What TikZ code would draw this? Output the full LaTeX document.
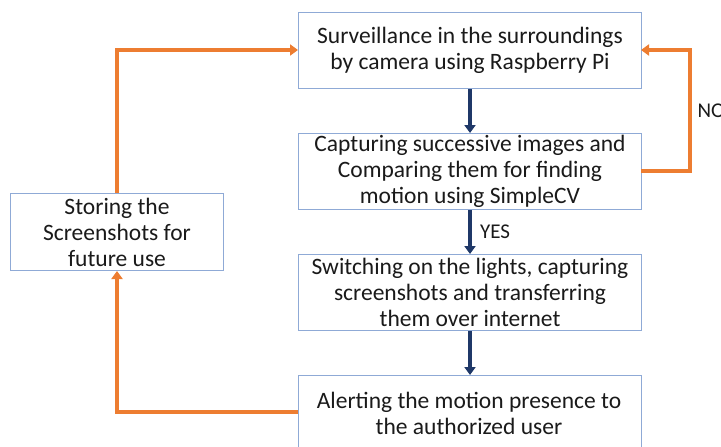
\documentclass[tikz,border=0pt]{standalone}
\usepackage{fontspec}
\setmainfont{Carlito}
\usetikzlibrary{arrows.meta}
\definecolor{boxline}{HTML}{8FAAD6}
\definecolor{navy}{HTML}{1F3868}
\definecolor{flow}{HTML}{ED7D31}
\definecolor{ink}{HTML}{1A1A1A}
\tikzset{
  boxfont/.style={font=\fontsize{23.5}{26}\selectfont, text=ink},
  stepbox/.style={draw=boxline, line width=1pt, fill=white, inner sep=0pt,
    align=center, boxfont, anchor=north west},
  down/.style={draw=navy, line width=3.4pt, -{Triangle[length=8pt,width=11pt]}},
  back/.style={draw=flow, line width=3.4pt, -{Triangle[length=8pt,width=11pt]}},
  tag/.style={font=\fontsize{21}{24}\selectfont, text=ink},
}
\begin{document}
\begin{tikzpicture}[x=1pt,y=-1pt]
\useasboundingbox (0,0) rectangle (721,447);
\clip (0,0) rectangle (721,447);
\node[stepbox, minimum width=343pt, minimum height=76pt] (surv) at (298,12)
  {Surveillance in the surroundings\\by camera using Raspberry Pi};
\node[stepbox, minimum width=343pt, minimum height=76pt] (cmp) at (298,133)
  {Capturing successive images and\\Comparing them for finding\\motion using SimpleCV};
\node[stepbox, minimum width=343pt, minimum height=76pt] (sw) at (298,254)
  {Switching on the lights, capturing\\screenshots and transferring\\them over internet};
\node[stepbox, minimum width=343pt, minimum height=100pt] (alert) at (298,375)
  {};
\node[boxfont, align=center] (alerttxt) at (469,413)
  {Alerting the motion presence to\\the authorized user};
\node[stepbox, minimum width=213pt, minimum height=77pt] (store) at (10,193)
  {Storing the\\Screenshots for\\future use};

\draw[down] (surv.south) -- (cmp.north);
\draw[down] (cmp.south) -- node[right, xshift=5pt, tag] (yes) {YES} (sw.north);
\draw[down] (sw.south) -- (alert.north);

\coordinate (noR) at (690,171);
\draw[back] (641,171) -- (noR) |- (641,50);
\node[anchor=west, tag] (no) at (694,111) {NO};

\draw[back] (298,412) -| (store.south);
\draw[back] (store.north) |- (298,50);
\end{tikzpicture}
\end{document}
